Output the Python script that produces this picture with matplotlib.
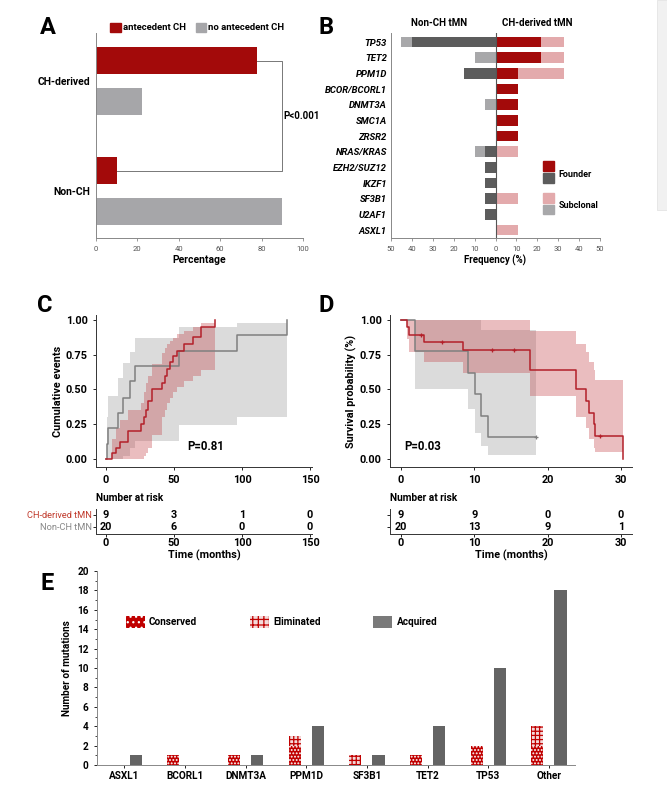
import matplotlib
matplotlib.use('Agg')
import matplotlib.pyplot as plt
import numpy as np
from matplotlib.patches import Patch, Rectangle
from matplotlib.ticker import MultipleLocator

plt.rcParams['font.family'] = ['Roboto', 'DejaVu Sans']
plt.rcParams['hatch.linewidth'] = 0.9

# ---- data ----
# A: antecedent CH by tMN group
a_groups = ['CH-derived', 'Non-CH']
a_antecedent = [78, 10]
a_no_antecedent = [22, 90]
a_pvalue = 'P<0.001'

# B: mutation frequencies (%)
b_genes = ['TP53', 'TET2', 'PPM1D', 'BCOR/BCORL1', 'DNMT3A', 'SMC1A', 'ZRSR2',
           'NRAS/KRAS', 'EZH2/SUZ12', 'IKZF1', 'SF3B1', 'U2AF1', 'ASXL1']
b_nonch_founder = [40, 0, 15, 0, 0, 0, 0, 5, 5, 5, 5, 5, 0]
b_nonch_subclonal = [5, 10, 0, 0, 5, 0, 0, 5, 0, 0, 0, 0, 0]
b_ch_founder = [22, 22, 11, 11, 11, 11, 11, 0, 0, 0, 0, 0, 0]
b_ch_subclonal = [11, 11, 22, 0, 0, 0, 0, 11, 0, 0, 11, 0, 11]

# C: cumulative events
c_red_t = [0, 4.5, 7.5, 10, 16.5, 26, 28, 29.5, 31, 33.5, 41, 43.5, 45, 47, 49.5, 52, 57, 64, 70, 80]
c_red_v = [0, 0.04, 0.08, 0.12, 0.20, 0.25, 0.30, 0.35, 0.42, 0.50, 0.55, 0.60, 0.65, 0.70, 0.74,
           0.78, 0.83, 0.88, 0.95, 1.0]
c_red_hi = [0, 0.14, 0.22, 0.28, 0.35, 0.40, 0.48, 0.55, 0.60, 0.68, 0.76, 0.80, 0.83, 0.85, 0.87,
            0.90, 0.92, 0.95, 0.98, 0.98]
c_red_lo = [0, 0, 0, 0, 0, 0, 0.02, 0.04, 0.08, 0.17, 0.30, 0.35, 0.40, 0.44, 0.48,
            0.52, 0.56, 0.60, 0.64, 0.66]
c_gray_t = [0, 0.5, 1.5, 9, 12.7, 17.6, 21, 54, 96, 133]
c_gray_v = [0, 0.11, 0.22, 0.33, 0.44, 0.56, 0.67, 0.78, 0.89, 1.0]
c_gray_hi = [0, 0.30, 0.45, 0.58, 0.69, 0.77, 0.87, 0.95, 0.98, 0.98]
c_gray_lo = [0, 0, 0, 0, 0.02, 0.08, 0.13, 0.245, 0.30, 0.30]
c_pvalue = 'P=0.81'
c_risk_times = [0, 50, 100, 150]
c_risk_red = [9, 3, 1, 0]
c_risk_gray = [20, 6, 0, 0]

# D: survival
d_red_t = [0, 0.8, 1.1, 3.2, 8.5, 17.6, 23.8, 25.2, 25.7, 26.3, 26.5, 30.3]
d_red_v = [1, 0.95, 0.895, 0.84, 0.785, 0.64, 0.50, 0.42, 0.33, 0.25, 0.167, 0.0]
d_red_hi = [1, 1, 1, 1, 1, 0.92, 0.83, 0.77, 0.70, 0.64, 0.57, 0.57]
d_red_lo = [1, 0.86, 0.77, 0.70, 0.62, 0.45, 0.30, 0.22, 0.14, 0.08, 0.05, 0.05]
d_red_censor = [2.7, 5.6, 12.4, 15.4, 27.2]
d_gray_t = [0, 1.9, 9.1, 10.1, 10.9, 11.9, 18.4]
d_gray_v = [1, 0.778, 0.622, 0.467, 0.311, 0.156, 0.156]
d_gray_hi = [1, 1, 1, 1, 0.93, 0.93, 0.93]
d_gray_lo = [1, 0.50, 0.36, 0.19, 0.09, 0.025, 0.025]
d_gray_censor = [18.4]
d_pvalue = 'P=0.03'
d_risk_times = [0, 10, 20, 30]
d_risk_top = [9, 9, 0, 0]
d_risk_bottom = [20, 13, 9, 1]

# E: clonal evolution
e_genes = ['ASXL1', 'BCORL1', 'DNMT3A', 'PPM1D', 'SF3B1', 'TET2', 'TP53', 'Other']
e_conserved = [0, 1, 1, 2, 0, 1, 2, 2]
e_eliminated = [0, 0, 0, 1, 1, 0, 0, 2]
e_acquired = [1, 0, 1, 4, 1, 4, 10, 18]

RED = '#a30a0a'
LRED = '#e3aaac'
DGRAY = '#5c5c5c'
LGRAY = '#a8a8aa'
AGRAY = '#a6a6a9'
LINE_RED = '#b3202a'
LINE_GRAY = '#7f7f7f'
E_RED = '#c00000'

fig = plt.figure(figsize=(6.67, 8), dpi=100)


def letter(x, y, s):
    fig.text(x / 667, 1 - y / 800, s, fontsize=17, fontweight='bold', ha='center', va='center')


# ---- A ----
ax = fig.add_axes([96 / 667, 1 - 238 / 800, 207 / 667, 205 / 800])
ya = np.arange(len(a_groups))
off = 0.186
ax.barh(ya - off, a_antecedent, height=0.245, color=RED)
ax.barh(ya + off, a_no_antecedent, height=0.245, color=AGRAY)
ax.set_ylim(1.427, -0.436)
ax.set_xlim(0, 100)
ax.set_xticks(range(0, 101, 20))
ax.tick_params(axis='x', labelsize=5.5, labelcolor='#555555', color='#888888', length=2.5, width=0.6)
ax.set_yticks(ya)
ax.set_yticklabels(a_groups, fontsize=7.5, fontweight='bold')
ax.tick_params(axis='y', length=0, pad=4)
for s in ['top', 'right']:
    ax.spines[s].set_visible(False)
for s in ['left', 'bottom']:
    ax.spines[s].set_color('#888888')
    ax.spines[s].set_linewidth(0.7)
ax.set_xlabel('Percentage', fontsize=7.5, fontweight='bold', labelpad=2)
xr = max(a_no_antecedent)
ax.plot([a_antecedent[0], xr, xr, a_antecedent[1]],
        [ya[0] - off, ya[0] - off, ya[1] - off, ya[1] - off], color='#777777', lw=0.7)
ax.text(xr + 0.5, (ya[0] + ya[1]) / 2 - off, a_pvalue, fontsize=7, fontweight='bold', va='center')
ax.legend(handles=[Patch(color=RED, label='antecedent CH'), Patch(color=AGRAY, label='no antecedent CH')],
          loc='lower center', bbox_to_anchor=(0.49, 0.985), ncol=2, frameon=False,
          prop={'size': 6.8, 'weight': 'bold'},
          handlelength=1.1, handleheight=1.1, handletextpad=0.2, columnspacing=1.1, borderaxespad=0)
letter(48, 28, 'A')

# ---- B ----
ax = fig.add_axes([391 / 667, 1 - 238 / 800, 209 / 667, 205 / 800])
yb = np.arange(len(b_genes))
nf = -np.array(b_nonch_founder)
ns = -np.array(b_nonch_subclonal)
ax.barh(yb, nf, height=0.68, color=DGRAY)
ax.barh(yb, ns, left=nf, height=0.68, color=LGRAY)
ax.barh(yb, b_ch_founder, height=0.68, color=RED)
ax.barh(yb, b_ch_subclonal, left=b_ch_founder, height=0.68, color=LRED)
ax.axvline(0, color='#555555', lw=0.8)
ax.set_ylim(12.5, -0.574)
ax.set_xlim(-50, 50)
xt = np.arange(-50, 51, 10)
ax.set_xticks(xt)
ax.set_xticklabels([str(abs(v)) for v in xt])
ax.tick_params(axis='x', labelsize=5.5, labelcolor='#555555', color='#888888', length=2.5, width=0.6)
ax.set_yticks(yb)
ax.set_yticklabels(b_genes, fontsize=6.8, fontweight='bold', style='italic')
ax.tick_params(axis='y', length=0, pad=3)
for s in ['top', 'right']:
    ax.spines[s].set_visible(False)
for s in ['left', 'bottom']:
    ax.spines[s].set_color('#888888')
    ax.spines[s].set_linewidth(0.7)
ax.set_xlabel('Frequency (%)', fontsize=7, fontweight='bold', labelpad=2)
ax.text(-27, 1.024, 'Non-CH tMN', transform=ax.get_xaxis_transform(), ha='center', va='bottom',
        fontsize=7, fontweight='bold')
ax.text(20, 1.024, 'CH-derived tMN', transform=ax.get_xaxis_transform(), ha='center', va='bottom',
        fontsize=7, fontweight='bold')
for yy, col in [(0.327, RED), (0.27, DGRAY), (0.171, LRED), (0.115, LGRAY)]:
    ax.add_patch(Rectangle((0.727, yy), 0.053, 0.048, transform=ax.transAxes, color=col, clip_on=False))
ax.text(0.80, 0.31, 'Founder', transform=ax.transAxes, fontsize=6.5, fontweight='bold', va='center')
ax.text(0.80, 0.16, 'Subclonal', transform=ax.transAxes, fontsize=6.5, fontweight='bold', va='center')
letter(326, 28, 'B')

# scrollbar strip at the right edge
fig.patches.append(Rectangle((657 / 667, 1 - 210 / 800), 10 / 667, 210 / 800, transform=fig.transFigure,
                             facecolor='#f1f1f1', edgecolor='#e4e4e4', lw=0.6))


def km_axes(rect, xlim, xticks):
    a = fig.add_axes(rect)
    a.set_xlim(*xlim)
    a.set_ylim(-0.058, 1.036)
    a.set_xticks(xticks)
    a.set_yticks([0, 0.25, 0.5, 0.75, 1.0])
    a.set_yticklabels(['0.00', '0.25', '0.50', '0.75', '1.00'])
    for s in ['top', 'right']:
        a.spines[s].set_visible(False)
    for s in ['left', 'bottom']:
        a.spines[s].set_linewidth(0.7)
        a.spines[s].set_color('#333333')
    a.tick_params(labelsize=7.8, length=2.5, width=0.6)
    for lab in a.get_xticklabels() + a.get_yticklabels():
        lab.set_fontweight('bold')
    return a


def risk_axes(rect, xlim, times, rows, labels, colors):
    a = fig.add_axes(rect)
    a.set_xlim(*xlim)
    a.set_ylim(-0.583, 1.83)
    a.set_xticks(times)
    a.set_yticks([1, 0])
    a.set_yticklabels(labels, fontsize=6.5)
    for lab, col in zip(a.get_yticklabels(), colors):
        lab.set_color(col)
    for s in ['top', 'right']:
        a.spines[s].set_visible(False)
    a.spines['left'].set_bounds(-0.5, 1.5)
    for s in ['left', 'bottom']:
        a.spines[s].set_linewidth(0.7)
        a.spines[s].set_color('#333333')
    a.tick_params(labelsize=7.8, length=2, width=0.6, pad=1)
    a.tick_params(axis='y', labelsize=6.7, pad=1)
    for lab in a.get_xticklabels():
        lab.set_fontweight('bold')
    for yy, vals in zip([1, 0], rows):
        for t, n in zip(times, vals):
            a.text(t, yy, str(n), ha='center', va='center', fontsize=7.8, fontweight='bold')
    a.set_title('Number at risk', loc='left', fontsize=7.3, fontweight='bold', pad=3)
    a.set_xlabel('Time (months)', fontsize=7.8, fontweight='bold', labelpad=1)
    return a


# ---- C ----
ax = km_axes([96 / 667, 1 - 467 / 800, 216 / 667, 152 / 800], (-7.35, 151.5), [0, 50, 100, 150])
ax.fill_between(c_gray_t, c_gray_lo, c_gray_hi, step='post', color='#b9b9b9', alpha=0.5, lw=0)
ax.fill_between(c_red_t, c_red_lo, c_red_hi, step='post', color='#c4444a', alpha=0.35, lw=0)
ax.step(c_gray_t, c_gray_v, where='post', color=LINE_GRAY, lw=1.1)
ax.step(c_red_t, c_red_v, where='post', color=LINE_RED, lw=1.1)
ax.text(73, 0.086, c_pvalue, fontsize=8.3, fontweight='bold', ha='center', va='center')
ax.set_ylabel('Cumulative events', fontsize=7.8, fontweight='bold', labelpad=2)
risk_axes([96 / 667, 1 - 534 / 800, 216 / 667, 29 / 800], (-7.35, 151.5), c_risk_times,
          [c_risk_red, c_risk_gray], ['CH-derived tMN', 'Non-CH tMN'], ['#c0392b', '#888888'])
letter(45, 305, 'C')

# ---- D ----
ax = km_axes([390 / 667, 1 - 467 / 800, 242 / 667, 152 / 800], (-1.5, 31.5), [0, 10, 20, 30])
ax.fill_between(d_gray_t, d_gray_lo, d_gray_hi, step='post', color='#b9b9b9', alpha=0.5, lw=0)
ax.fill_between(d_red_t, d_red_lo, d_red_hi, step='post', color='#c4444a', alpha=0.35, lw=0)
ax.step(d_gray_t, d_gray_v, where='post', color=LINE_GRAY, lw=1.1)
ax.step(d_red_t, d_red_v, where='post', color=LINE_RED, lw=1.1)
for ts, vs, ct, col in [(d_red_t, d_red_v, d_red_censor, LINE_RED), (d_gray_t, d_gray_v, d_gray_censor, LINE_GRAY)]:
    idx = np.searchsorted(ts, ct, side='right') - 1
    ax.plot(ct, np.array(vs)[idx], '+', color=col, ms=3.5, mew=0.9)
ax.text(3.0, 0.09, d_pvalue, fontsize=8.3, fontweight='bold', ha='center', va='center')
ax.set_ylabel('Survival probability (%)', fontsize=7.8, fontweight='bold', labelpad=2)
risk_axes([390 / 667, 1 - 534 / 800, 242 / 667, 29 / 800], (-1.5, 31.5), d_risk_times,
          [d_risk_top, d_risk_bottom], ['', ''], ['k', 'k'])
letter(326, 305, 'D')

# ---- E ----
ax = fig.add_axes([97 / 667, 1 - 765 / 800, 478 / 667, 194 / 800])
xe = np.arange(len(e_genes))
w = 0.2
ax.bar(xe - 0.19, e_conserved, width=w, color=E_RED, edgecolor='#ffffff', hatch='.....', lw=0)
ax.bar(xe - 0.19, e_eliminated, width=w, bottom=e_conserved, color='#f4dada', edgecolor=E_RED,
       hatch='++++', lw=0)
ax.bar(xe + 0.19, e_acquired, width=w, color='#646464', lw=0)
ax.set_xlim(-0.45, 7.43)
ax.set_ylim(0, 20)
ax.set_xticks(xe)
ax.set_xticklabels(e_genes, fontsize=7.2, fontweight='bold')
ax.yaxis.set_major_locator(MultipleLocator(2))
ax.yaxis.set_minor_locator(MultipleLocator(1))
ax.tick_params(axis='y', labelsize=7.2, length=2.5, width=0.6)
ax.tick_params(axis='y', which='minor', length=1.5, width=0.5)
ax.tick_params(axis='x', length=2.5, width=0.6, pad=2)
for lab in ax.get_yticklabels():
    lab.set_fontweight('bold')
for s in ['top', 'right']:
    ax.spines[s].set_visible(False)
for s in ['left', 'bottom']:
    ax.spines[s].set_color('#888888')
    ax.spines[s].set_linewidth(0.7)
ax.set_ylabel('Number of mutations', fontsize=7.2, fontweight='bold', labelpad=4)
handles = [Patch(facecolor=E_RED, edgecolor='#ffffff', hatch='...', lw=0, label='Conserved'),
           Patch(facecolor='#f4dada', edgecolor=E_RED, hatch='+++', lw=0, label='Eliminated'),
           Patch(facecolor='#7a7a7a', lw=0, label='Acquired')]
ax.legend(handles=handles, loc='center left', bbox_to_anchor=(0.052, 0.737), ncol=3, frameon=False,
          prop={'size': 7.2, 'weight': 'bold'}, handlelength=1.9, handleheight=1.4,
          handletextpad=0.4, columnspacing=5.3, borderaxespad=0)
letter(47, 583, 'E')

fig.savefig('out.png', dpi=100)
